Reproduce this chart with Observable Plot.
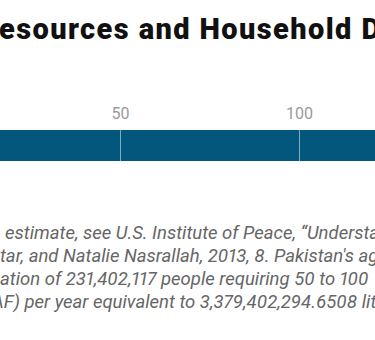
<!DOCTYPE html>
<html>
<head>
<meta charset="utf-8">
<script src="https://cdn.jsdelivr.net/npm/d3@7"></script>
<script src="https://cdn.jsdelivr.net/npm/@observablehq/plot@0.6"></script>
<style>
  html, body { margin: 0; padding: 0; background: #fff; }
  body { width: 375px; height: 340px; overflow: hidden; position: relative; font-family: Roboto, sans-serif; }
  .abs { position: absolute; white-space: nowrap; }
  .pre { position: absolute; right: 100%; top: 0; white-space: nowrap; }
  #title { font-weight: 900; font-size: 29px; letter-spacing: 1.4px; line-height: 34px; color: #111; }
  .fn { font-style: italic; font-size: 18.5px; line-height: 23px; color: #666; font-variant-numeric: proportional-nums; font-feature-settings: "pnum" 1, "tnum" 0; }
  #chart { position: absolute; left: -79px; top: 100px; width: 577px; }
  #chart svg { max-width: none !important; }
</style>
</head>
<body>
<div id="title" class="abs" style="left:-1px; top:12px;"><span class="pre">Pakistan's Water R</span>esources and Household Demand</div>
<div id="chart"></div>
<div class="abs fn" style="left:5px; top:222px;"><span class="pre" style="margin-right:4px;">Note: For the household water demand&nbsp;</span>estimate, see U.S. Institute of Peace, “Understanding Pakistan's Water-Security Nexus,” by Daanish Mustafa, Majed Akh</div>
<div class="abs fn" style="left:0px; top:245px;"><span class="pre">Majed Akh</span>tar, and Natalie Nasrallah, 2013, 8. Pakistan's agricultural water use figure is from the same source. Demand is</div>
<div class="abs fn" style="left:0px; top:268px;"><span class="pre" style="margin-right:3px;">calculated based on a popul</span>ation of 231,402,117 people requiring 50 to 100</div>
<div class="abs fn" style="left:-8px; top:291px;"><span class="pre">liters of water per day, in million acre-feet (M</span>AF) per year equivalent to 3,379,402,294.6508 liters.</div>
<script>
const categories = ["Available water"];
const values = [145];
const tickValues = [0, 50, 100, 150];

const data = categories.map((c, i) => ({category: c, value: values[i]}));

const chart = Plot.plot({
  width: 577,
  height: 61,
  marginLeft: 20,
  marginRight: 20,
  marginTop: 30,
  marginBottom: 0,
  x: {domain: [0, 150], axis: null},
  y: {domain: categories, axis: null, padding: 0},
  style: {fontFamily: "Roboto, sans-serif", fontSize: "16px", background: "transparent", overflow: "visible"},
  marks: [
    Plot.barX(data, {x: "value", y: "category", fill: "#03567c"}),
    Plot.tickX(tickValues, {x: d => d, y: () => categories[0], stroke: "#ffffff", strokeOpacity: 0.5, strokeWidth: 1}),
    Plot.axisX({anchor: "top", ticks: tickValues, tickSize: 0, tickPadding: 12, fill: "#9a9a9a", fontSize: 16})
  ]
});
document.getElementById("chart").appendChild(chart);
</script>
</body>
</html>
